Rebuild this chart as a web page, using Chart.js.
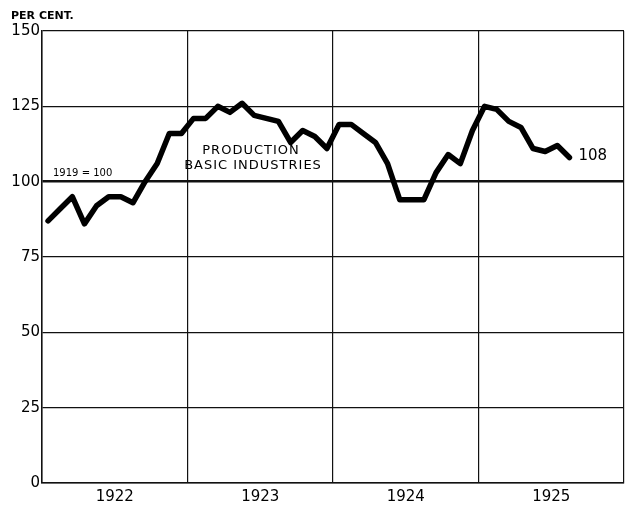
<!DOCTYPE html>
<html>
<head>
<meta charset="utf-8">
<script src="https://cdn.jsdelivr.net/npm/chart.js@4/dist/chart.umd.min.js"></script>
<style>
html,body{margin:0;padding:0;background:#fff;}
canvas{display:block;}
</style>
</head>
<body>
<canvas id="c" width="625" height="508"></canvas>
<script>
const years = ['1922', '1923', '1924', '1925'];
const v1922 = [87, 91, 95, 86, 92, 95, 95, 93, 100, 106, 116, 116];
const v1923 = [121, 121, 125, 123, 126, 122, 121, 120, 113, 117, 115, 111];
const v1924 = [119, 119, 116, 113, 106, 94, 94, 94, 103, 109, 106, 117];
const v1925 = [125, 124, 120, 118, 111, 110, 112, 108];
const yTicks = [0, 25, 50, 75, 100, 125, 150];
const seriesLabel = ['PRODUCTION', 'BASIC INDUSTRIES'];
const baseNote = '1919 = 100';
const unitNote = 'PER CENT.';

const monthly = [].concat(v1922, v1923, v1924, v1925);
const points = monthly.map((v, i) => ({ x: i + 0.5, y: v }));

const textPlugin = {
  id: 'texts',
  afterDraw(chart) {
    const ctx = chart.ctx;
    const xs = chart.scales.x, ys = chart.scales.y;
    ctx.save();
    ctx.fillStyle = '#000';
    ctx.textBaseline = 'middle';
    ctx.textAlign = 'left';
    ctx.font = 'bold 11px "DejaVu Sans"';
    ctx.fillText(unitNote, 11, 16);
    ctx.font = '10px "DejaVu Sans"';
    ctx.fillText(baseNote, 53, ys.getPixelForValue(100) - 8);
    ctx.textAlign = 'center';
    ctx.font = '13px "DejaVu Sans"';
    ctx.letterSpacing = '1px';
    ctx.fillText(seriesLabel[0], 251, 151);
    ctx.fillText(seriesLabel[1], 253, 166);
    ctx.letterSpacing = '0px';
    const last = points[points.length - 1];
    ctx.textAlign = 'left';
    ctx.font = '15px "DejaVu Sans"';
    ctx.fillText(String(last.y), xs.getPixelForValue(last.x) + 9, ys.getPixelForValue(last.y) - 1);
    ctx.restore();
  }
};

new Chart(document.getElementById('c'), {
  type: 'line',
  data: {
    datasets: [{
      data: points,
      borderColor: '#000',
      borderWidth: 5.5,
      pointRadius: 0,
      tension: 0,
      borderJoinStyle: 'round',
      borderCapStyle: 'round',
      fill: false
    }]
  },
  options: {
    responsive: false,
    animation: false,
    devicePixelRatio: 1,
    layout: { padding: { left: 0, right: 1, top: 31, bottom: 0 } },
    plugins: { legend: { display: false }, tooltip: { enabled: false } },
    scales: {
      x: {
        type: 'linear',
        min: 0,
        max: 48,
        afterFit(s) { s.height = 25; s.paddingLeft = 0; s.paddingRight = 0; },
        ticks: {
          stepSize: 6,
          autoSkip: false,
          maxRotation: 0,
          padding: 5,
          color: '#000',
          font: { family: '"DejaVu Sans"', size: 15 },
          callback: (v) => (v % 12 === 6 ? years[(v - 6) / 12] : '')
        },
        grid: {
          drawTicks: false,
          color: (c) => (c.tick && c.tick.value % 12 === 0 ? '#111' : 'rgba(0,0,0,0)'),
          lineWidth: 1.2
        },
        border: { display: true, color: '#111', width: 1.5 }
      },
      y: {
        min: 0,
        max: 150,
        afterFit(s) { s.width = 42; s.paddingTop = 0; s.paddingBottom = 0; },
        afterBuildTicks(s) { s.ticks = yTicks.map(v => ({ value: v })); },
        ticks: {
          padding: 2,
          color: '#000',
          font: { family: '"DejaVu Sans"', size: 15 }
        },
        grid: {
          drawTicks: false,
          color: '#111',
          lineWidth: (c) => (c.tick && c.tick.value === 100 ? 2.4 : 1.2)
        },
        border: { display: true, color: '#111', width: 1.5 }
      }
    }
  },
  plugins: [textPlugin]
});
</script>
</body>
</html>
